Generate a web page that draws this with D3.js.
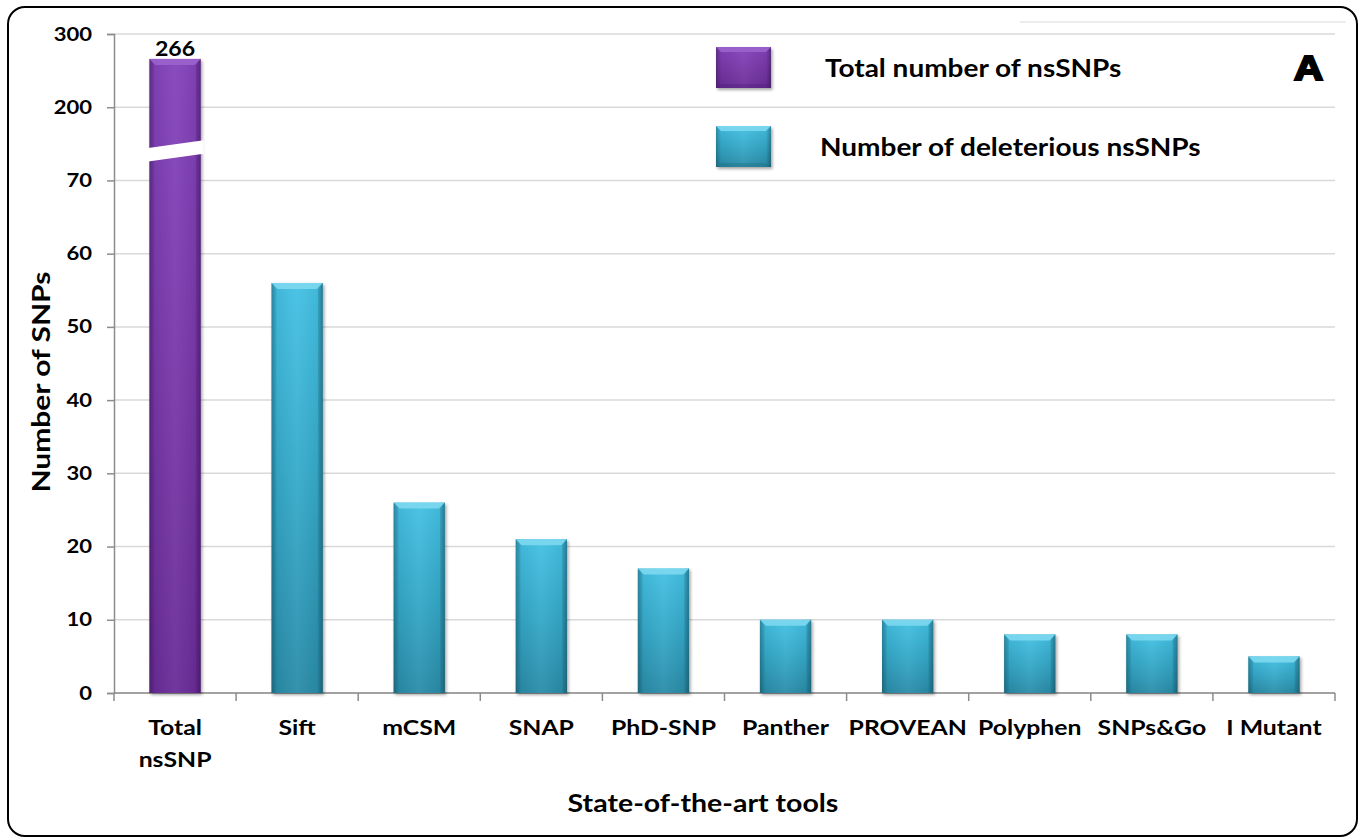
<!DOCTYPE html>
<html>
<head>
<meta charset="utf-8">
<script src="https://cdn.jsdelivr.net/npm/d3@7"></script>
<style>
  html, body { margin: 0; padding: 0; background: #fff; }
  svg { display: block; }
  text { font-family: Lato, "Open Sans", sans-serif; font-weight: 700; fill: #000; }
</style>
</head>
<body>
<svg id="chart" width="1364" height="839"></svg>
<script>
// Tools and counts
const categories = ["Total nsSNP", "Sift", "mCSM", "SNAP", "PhD-SNP", "Panther", "PROVEAN", "Polyphen", "SNPs&Go", "I Mutant"];
const tickLabels = [["Total", "nsSNP"], ["Sift"], ["mCSM"], ["SNAP"], ["PhD-SNP"], ["Panther"], ["PROVEAN"], ["Polyphen"], ["SNPs&Go"], ["I Mutant"]];
const values = [266, 56, 26, 21, 17, 10, 10, 8, 8, 5];
const seriesOf = ["total", "deleterious", "deleterious", "deleterious", "deleterious", "deleterious", "deleterious", "deleterious", "deleterious", "deleterious"];
const seriesNames = ["Total number of nsSNPs", "Number of deleterious nsSNPs"];
const seriesKeys = ["total", "deleterious"];
// Broken value axis: 0–70 linear, then 200 and 300
const yTicks = [0, 10, 20, 30, 40, 50, 60, 70, 200, 300];
const yBreakDomain = [0, 70, 200, 300];

const svg = d3.select("#chart");
const plotLeft = 114, plotRight = 1335, plotTop = 34, plotBottom = 693;
const stepPx = (plotBottom - plotTop) / (yTicks.length - 1);

const y = d3.scaleLinear()
  .domain(yBreakDomain)
  .range([plotBottom, plotBottom - 7 * stepPx, plotBottom - 8 * stepPx, plotTop]);

const x = d3.scaleBand()
  .domain(categories)
  .range([plotLeft, plotRight])
  .paddingInner(0.58)
  .paddingOuter(0.29);

const palette = {
  total: { top: "#8443bb", mid: "#7737a7", bot: "#6a2c98", bevel: "#9b62cc", edge: "#4e1c75" },
  deleterious: { top: "#44c1e4", mid: "#33a6c6", bot: "#2a8ca8", bevel: "#7dd8f0", edge: "#1d6a80" }
};

// Text with a slight horizontal stretch (wide bold lettering)
function wideText(parent, tx, ty, sx, size, anchor, str, rotate) {
  const t = parent.append("text")
    .attr("transform", `translate(${tx},${ty})${rotate ? ` rotate(${rotate})` : ""} scale(${sx},1)`)
    .attr("text-anchor", anchor)
    .style("font-size", size + "px");
  if (str !== undefined) t.text(str);
  return t;
}

const defs = svg.append("defs");
seriesKeys.forEach(k => {
  const c = palette[k];
  const g = defs.append("linearGradient").attr("id", "body-" + k)
    .attr("x1", 0).attr("y1", 0).attr("x2", 0).attr("y2", 1);
  g.append("stop").attr("offset", "0%").attr("stop-color", c.top);
  g.append("stop").attr("offset", "55%").attr("stop-color", c.mid);
  g.append("stop").attr("offset", "100%").attr("stop-color", c.bot);
});
const side = defs.append("linearGradient").attr("id", "side-shade")
  .attr("x1", 0).attr("y1", 0).attr("x2", 1).attr("y2", 0);
side.append("stop").attr("offset", "0%").attr("stop-color", "#000").attr("stop-opacity", 0.28);
side.append("stop").attr("offset", "9%").attr("stop-color", "#000").attr("stop-opacity", 0.05);
side.append("stop").attr("offset", "50%").attr("stop-color", "#fff").attr("stop-opacity", 0.05);
side.append("stop").attr("offset", "91%").attr("stop-color", "#000").attr("stop-opacity", 0.05);
side.append("stop").attr("offset", "100%").attr("stop-color", "#000").attr("stop-opacity", 0.32);
const shadow = defs.append("filter").attr("id", "drop")
  .attr("x", "-20%").attr("y", "-20%").attr("width", "150%").attr("height", "150%");
shadow.append("feDropShadow").attr("dx", 1.5).attr("dy", 2).attr("stdDeviation", 1.5)
  .attr("flood-color", "#000").attr("flood-opacity", 0.35);

// Frame
svg.append("rect")
  .attr("x", 8).attr("y", 7).attr("width", 1349).attr("height", 829)
  .attr("rx", 17).attr("ry", 17)
  .attr("fill", "none").attr("stroke", "#000").attr("stroke-width", 2);

// faint rule at the top right
svg.append("line")
  .attr("x1", 1020).attr("x2", 1346).attr("y1", 22).attr("y2", 22)
  .attr("stroke", "#e6e6e6").attr("stroke-width", 1.5);

// Grid
svg.append("g").selectAll("line").data(yTicks).join("line")
  .attr("x1", plotLeft).attr("x2", plotRight)
  .attr("y1", d => y(d)).attr("y2", d => y(d))
  .attr("stroke", "#d9d9d9").attr("stroke-width", 1.5);

// Y axis
const tickSx = 1.16;
const yAxis = d3.axisLeft(y).tickValues(yTicks).tickSize(7).tickPadding(14).tickFormat(d3.format("d"));
const gy = svg.append("g").attr("transform", `translate(${plotLeft},0)`).call(yAxis);
gy.select(".domain").attr("stroke", "#8c8c8c").attr("stroke-width", 1.5);
gy.selectAll(".tick line").attr("stroke", "#8c8c8c").attr("stroke-width", 1.5);
gy.selectAll(".tick text")
  .attr("x", -22 / tickSx)
  .attr("transform", `scale(${tickSx},1)`)
  .style("font-size", "19px").style("font-family", "Lato, sans-serif").style("font-weight", 700)
  .attr("fill", "#000");

// X axis baseline and separators
const gx = svg.append("g");
gx.append("line").attr("x1", plotLeft).attr("x2", plotRight).attr("y1", plotBottom).attr("y2", plotBottom)
  .attr("stroke", "#8c8c8c").attr("stroke-width", 1.5);
const sepIdx = d3.range(categories.length + 1);
gx.selectAll("line.sep").data(sepIdx).join("line").attr("class", "sep")
  .attr("x1", i => plotLeft + i * x.step()).attr("x2", i => plotLeft + i * x.step())
  .attr("y1", plotBottom).attr("y2", plotBottom + 8)
  .attr("stroke", "#8c8c8c").attr("stroke-width", 1.5);

// Bars
const bars = svg.append("g").selectAll("g").data(categories).join("g")
  .attr("filter", "url(#drop)");
const bw = x.bandwidth();
bars.each(function(cat, i) {
  const g = d3.select(this);
  const k = seriesOf[i];
  const c = palette[k];
  const x0 = x(cat), yt = y(values[i]), h = plotBottom - yt;
  g.append("rect").attr("x", x0).attr("y", yt).attr("width", bw).attr("height", h)
    .attr("fill", `url(#body-${k})`);
  g.append("rect").attr("x", x0).attr("y", yt).attr("width", bw).attr("height", h)
    .attr("fill", "url(#side-shade)");
  const bv = Math.min(6, h / 2);
  g.append("path")
    .attr("d", `M${x0},${yt} L${x0 + bw},${yt} L${x0 + bw - bv},${yt + bv} L${x0 + bv},${yt + bv} Z`)
    .attr("fill", c.bevel).attr("opacity", 0.9);
  g.append("path")
    .attr("d", `M${x0},${yt} L${x0 + bv * 0.8},${yt + bv} L${x0 + bv * 0.8},${plotBottom} L${x0},${plotBottom} Z`)
    .attr("fill", c.edge).attr("opacity", 0.18);
  g.append("path")
    .attr("d", `M${x0 + bw},${yt} L${x0 + bw - bv * 0.8},${yt + bv} L${x0 + bw - bv * 0.8},${plotBottom} L${x0 + bw},${plotBottom} Z`)
    .attr("fill", c.edge).attr("opacity", 0.3);
});

// Axis break across the tall bar, halfway through the 70–200 gap
const breakMid = (y(70) + y(200)) / 2;
const bx0 = x(categories[0]) - 3, bx1 = x(categories[0]) + bw + 3;
svg.append("path")
  .attr("d", `M${bx0},${breakMid + 4.5} L${bx1},${breakMid - 3.5} L${bx1},${breakMid + 10} L${bx0},${breakMid + 18} Z`)
  .attr("fill", "#fff");

// Value label on the tall bar
wideText(svg, x(categories[0]) + bw / 2, y(values[0]) - 3, 1.1, 21, "middle", values[0]);

// Category labels
categories.forEach((d, i) => {
  tickLabels[i].forEach((line, j) => {
    wideText(svg, x(d) + bw / 2, 735 + j * 32, 1.18, 21, "middle", line);
  });
});

// Axis titles
wideText(svg, 50, 382, 1.2, 25, "middle", "Number of SNPs", -90);
wideText(svg, 703, 812, 1.14, 25, "middle", "State-of-the-art tools");

// Legend
const legend = svg.append("g");
const legY = [47, 126];
const legTx = [825, 820];
seriesKeys.forEach((k, i) => {
  const c = palette[k];
  const g = legend.append("g").attr("filter", "url(#drop)");
  const lx = 716, ly = legY[i], lw = 55, lh = 41;
  g.append("rect").attr("x", lx).attr("y", ly).attr("width", lw).attr("height", lh)
    .attr("fill", `url(#body-${k})`);
  g.append("rect").attr("x", lx).attr("y", ly).attr("width", lw).attr("height", lh)
    .attr("fill", "url(#side-shade)");
  g.append("path")
    .attr("d", `M${lx},${ly} L${lx + lw},${ly} L${lx + lw - 5},${ly + 5} L${lx + 5},${ly + 5} Z`)
    .attr("fill", c.bevel).attr("opacity", 0.9);
  g.append("path")
    .attr("d", `M${lx},${ly + lh} L${lx + lw},${ly + lh} L${lx + lw - 5},${ly + lh - 4} L${lx + 5},${ly + lh - 4} Z`)
    .attr("fill", c.edge).attr("opacity", 0.35);
  wideText(legend, legTx[i], ly + lh / 2 + 9, 1.12, 25, "start", seriesNames[i]);
});

// Panel letter
svg.append("text")
  .attr("transform", "translate(1323,80) scale(1.15,1)")
  .attr("text-anchor", "end")
  .style("font-family", "'Liberation Sans', Arial, sans-serif")
  .style("font-size", "35px").style("font-weight", 900)
  .attr("stroke", "#000").attr("stroke-width", 2.2)
  .text("A");
</script>
</body>
</html>
